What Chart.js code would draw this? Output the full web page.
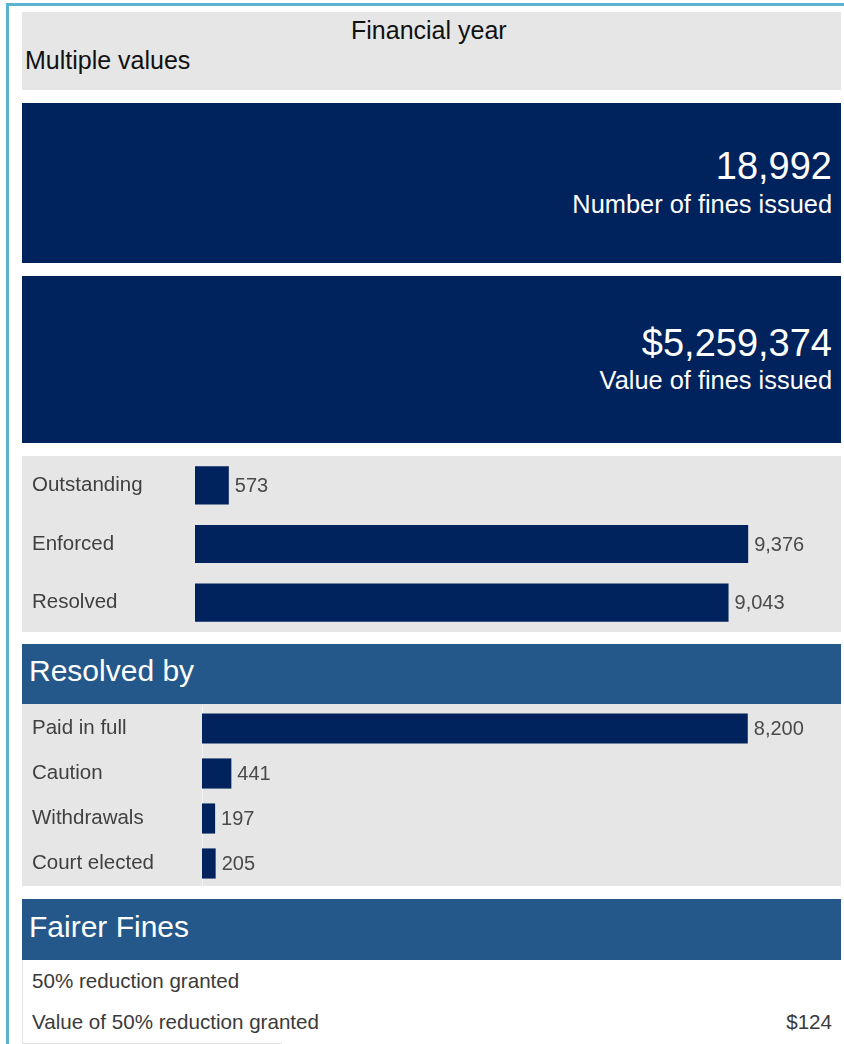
<!DOCTYPE html>
<html>
<head>
<meta charset="utf-8">
<script src="https://cdn.jsdelivr.net/npm/chart.js@4/dist/chart.umd.min.js"></script>
<style>
  body { margin: 0; width: 844px; height: 1044px; overflow: hidden; background: #fff; font-family: "Liberation Sans", Arial, sans-serif; position: relative; }
  .frame { position: absolute; left: 6px; top: 3px; width: 900px; height: 1100px; border-left: 3px solid #5ab4cf; border-top: 3px solid #5ab4cf; }
  .box { position: absolute; left: 22px; width: 819px; }
  .filter { top: 12px; height: 78px; background: #e6e6e6; }
  .filter .t1 { position: absolute; left: 329px; top: 4px; font-size: 25px; color: #111; }
  .filter .t2 { position: absolute; left: 3px; top: 34px; font-size: 25px; color: #111; }
  .kpi { background: #00225d; color: #fff; text-align: right; }
  .kpi .num { position: absolute; right: 9px; font-size: 38px; }
  .kpi .lab { position: absolute; right: 9px; font-size: 25.4px; }
  .head { background: #24588a; color: #fff; font-size: 30px; }
  .head span { position: absolute; left: 7px; }
  .panel { background: #e6e6e6; }
  .row { position: absolute; left: 32px; font-size: 20.6px; color: #3a3a3a; }
  canvas { display: block; }
</style>
</head>
<body>
<div class="frame"></div>

<div class="box filter"><span class="t1">Financial year</span><span class="t2">Multiple values</span></div>

<div class="box kpi" style="top:103px;height:160px">
  <span class="num" id="kpi1" style="top:42px"></span>
  <span class="lab" id="kpi1l" style="top:87px"></span>
</div>
<div class="box kpi" style="top:276px;height:167px">
  <span class="num" id="kpi2" style="top:46px"></span>
  <span class="lab" id="kpi2l" style="top:90px"></span>
</div>

<div class="box panel" style="top:456px;height:176px"><canvas id="status"></canvas></div>

<div class="box head" style="top:644px;height:60px"><span style="top:10px">Resolved by</span></div>
<div class="box panel" style="top:704px;height:182px"><canvas id="resolved"></canvas></div>

<div class="box head" style="top:899px;height:61px"><span style="top:11px">Fairer Fines</span></div>
<div style="position:absolute;left:22px;top:960px;width:1px;height:83px;background:#e4e4e4"></div>
<div style="position:absolute;left:22px;top:1043px;width:260px;height:1px;background:#e4e4e4"></div>
<div class="row" style="top:969px">50% reduction granted</div>
<div class="row" style="top:1010px">Value of 50% reduction granted</div>
<div class="row" style="top:1010px;left:auto;right:12px" id="reduction"></div>

<script>
'use strict'

const finesIssued = 18992;
const finesValue = 5259374;
const reductionValue = 124;

const statusLabels = ['Outstanding', 'Enforced', 'Resolved'];
const statusValues = [573, 9376, 9043];

const resolvedLabels = ['Paid in full', 'Caution', 'Withdrawals', 'Court elected'];
const resolvedValues = [8200, 441, 197, 205];

const navy = '#00225d';
const fmt = v => v.toLocaleString('en-US');

document.getElementById('kpi1').textContent = fmt(finesIssued);
document.getElementById('kpi1l').textContent = 'Number of fines issued';
document.getElementById('kpi2').textContent = '$' + fmt(finesValue);
document.getElementById('kpi2l').textContent = 'Value of fines issued';
document.getElementById('reduction').textContent = '$' + fmt(reductionValue);

// writes the value just past the end of each bar
const valueLabels = {
	id: 'valueLabels',
	afterDatasetsDraw(chart) {
		const ctx = chart.ctx;
		const meta = chart.getDatasetMeta(0);
		ctx.save();
		ctx.font = '20px "Liberation Sans", Arial, sans-serif';
		ctx.fillStyle = '#4a4a4a';
		ctx.textAlign = 'left';
		ctx.textBaseline = 'middle';
		meta.data.forEach((bar, i) => {
			ctx.fillText(fmt(chart.data.datasets[0].data[i]), bar.x + 6, bar.y + 1);
		});
		ctx.restore();
	}
};

function barChart(id, labels, values, opts) {
	return new Chart(document.getElementById(id), {
		type: 'bar',
		data: {
			labels: labels,
			datasets: [{
				data: values,
				backgroundColor: navy,
				borderWidth: 0,
				categoryPercentage: 1,
				barPercentage: opts.barPct,
			}],
		},
		options: {
			indexAxis: 'y',
			responsive: true,
			maintainAspectRatio: false,
			animation: false,
			layout: { autoPadding: false, padding: { left: 10, right: opts.padRight, top: opts.padTop, bottom: 0 } },
			plugins: { legend: { display: false }, tooltip: { enabled: false } },
			scales: {
				x: { display: false, min: 0, max: opts.max },
				y: {
					grid: { display: false, drawTicks: false },
					border: { display: opts.border, color: '#f4f4f4', width: 1 },
					afterFit(axis) {
						axis.width = opts.axisWidth;
						axis.paddingTop = 0;
						axis.paddingBottom = 0;
					},
					ticks: {
						crossAlign: 'far',
						padding: 0,
						color: '#404040',
						font: { family: '"Liberation Sans", Arial, sans-serif', size: 20.5 },
					},
				},
			},
		},
		plugins: [valueLabels],
	});
}

barChart('status', statusLabels, statusValues, { max: 10000, padRight: 56, padTop: 0, axisWidth: 163, barPct: 0.65, border: false });
barChart('resolved', resolvedLabels, resolvedValues, { max: 9000, padRight: 40, padTop: 2, axisWidth: 170, barPct: 0.67, border: true });
</script>
</body>
</html>
